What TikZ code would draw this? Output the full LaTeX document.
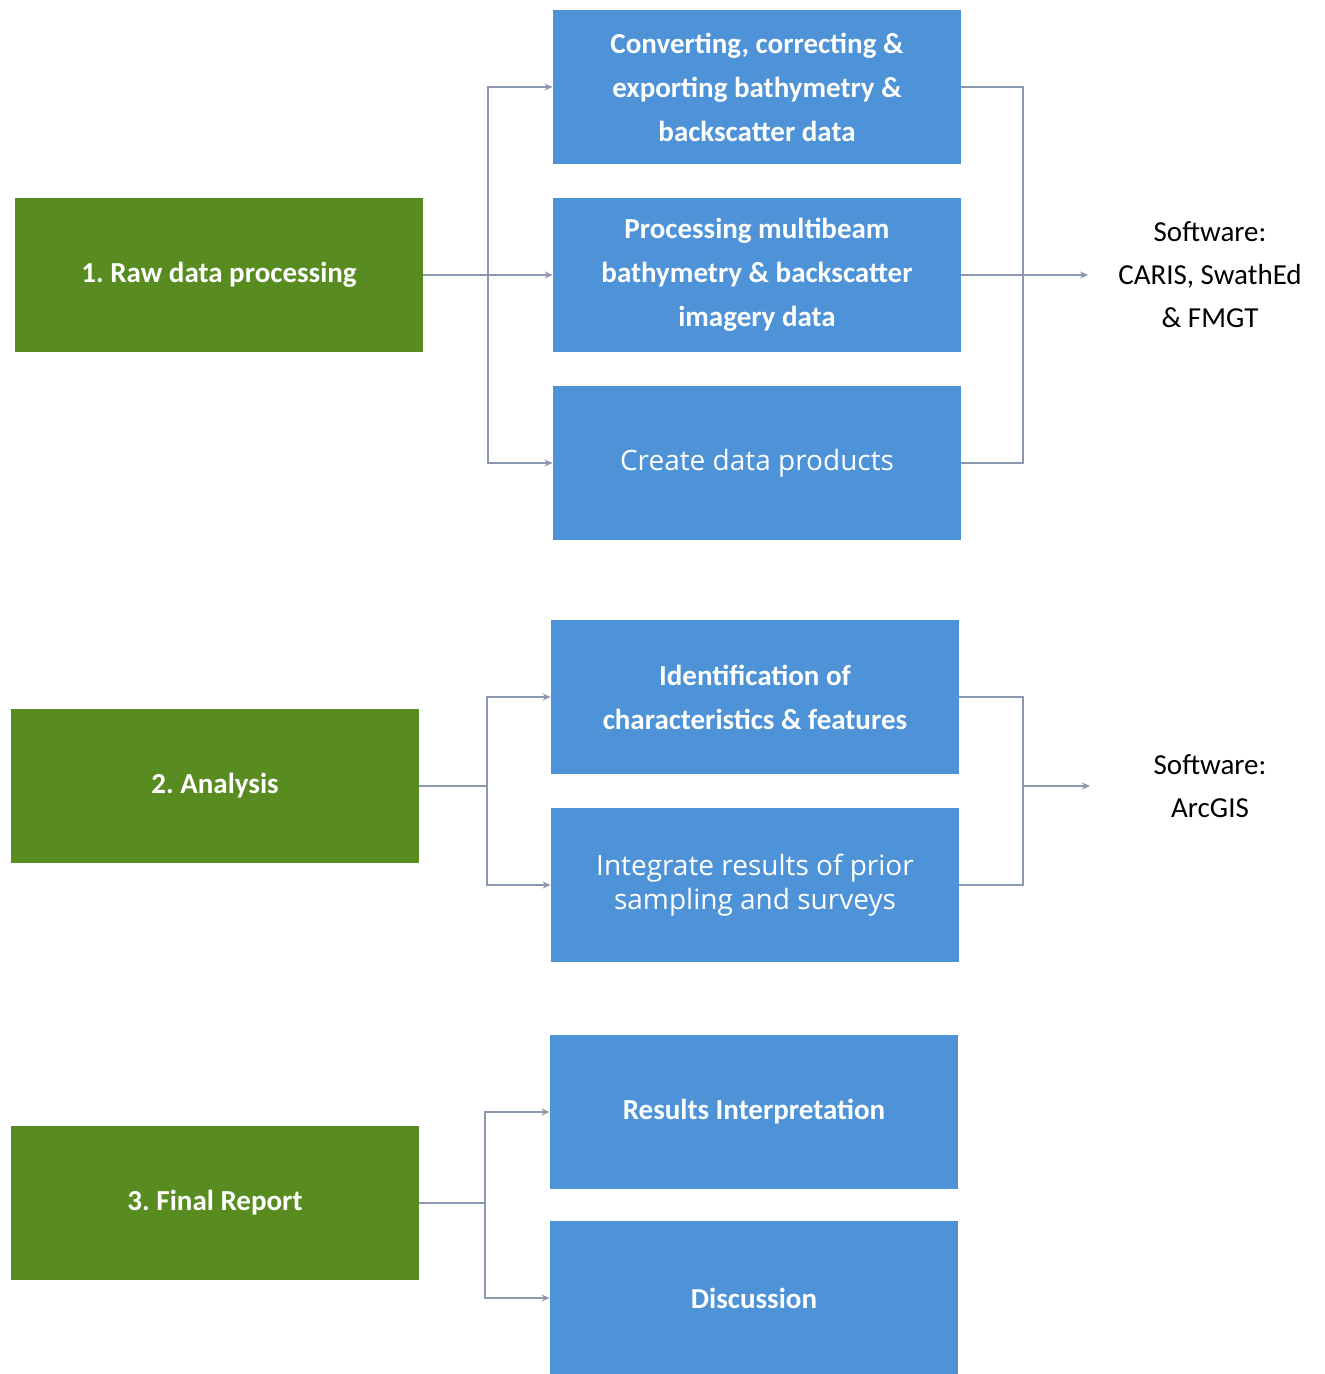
\documentclass[tikz,border=0pt]{standalone}
\usepackage{fontspec}
\setmainfont{Carlito}
\newfontfamily\opensans{Open Sans}
\usetikzlibrary{positioning, arrows.meta}
\frenchspacing

\definecolor{phasegreen}{RGB}{88,140,32}
\definecolor{taskblue}{RGB}{78,147,216}
\definecolor{linkgrey}{RGB}{140,152,175}

\begin{document}
\begin{tikzpicture}[
        x=0.5pt, y=-0.5pt,
        base/.style={align=center, text=white, inner sep=0pt, minimum width=204pt, minimum height=77pt, font=\fontsize{14.5}{22}\selectfont\bfseries},
        phase/.style={base, fill=phasegreen},
        task/.style={base, fill=taskblue},
        plaintask/.style={task, font=\fontsize{14}{17}\selectfont\opensans},
        soft/.style={align=center, font=\fontsize{14.5}{21.5}\selectfont},
        link/.style={linkgrey, line width=0.8pt},
        arr/.style={link, -{Stealth[length=4pt, width=3.5pt]}}
    ]
    \useasboundingbox (0,0) rectangle (1324,1374);

    % phases
    \node[phase] (g1) at (219,275) {1. Raw data processing};
    \node[phase] (g2) at (215,786) {2. Analysis};
    \node[phase] (g3) at (215,1203) {3. Final Report};

    % tasks
    \node[task] (b1) at (757,87) {Converting, correcting \&\\exporting bathymetry \&\\backscatter data};
    \node[task] (b2) at (757,275) {Processing multibeam\\bathymetry \& backscatter\\imagery data};
    \node[plaintask] (b3) at (757,463) {Create data products};
    \node[task] (b4) at (755,697) {Identification of\\characteristics \& features};
    \node[plaintask] (b5) at (755,885) {Integrate results of prior\\sampling and surveys};
    \node[task] (b6) at (754,1112) {Results Interpretation};
    \node[task] (b7) at (754,1298) {Discussion};

    % software
    \node[soft] (sw1) at (1210,275) {Software:\\CARIS, SwathEd\\\& FMGT};
    \node[soft] (sw2) at (1210,786) {Software:\\ArcGIS};

    \coordinate (j1) at (488,275);
    \coordinate (j2) at (487,786);
    \coordinate (j3) at (485,1203);
    \coordinate (r1) at (1023,275);
    \coordinate (r2) at (1023,786);
    \coordinate (e1) at (1088,275);
    \coordinate (e2) at (1090,786);

    \draw[arr] (g1.east) -- (b2.west);
    \draw[arr] (j1) |- (b1.west);
    \draw[arr] (j1) |- (b3.west);
    \draw[link] (b1.east) -| (r1) |- (b3.east);
    \draw[arr] (b2.east) -- (e1);

    \draw[link] (g2.east) -- (j2);
    \draw[arr] (j2) |- (b4.west);
    \draw[arr] (j2) |- (b5.west);
    \draw[link] (b4.east) -| (r2) |- (b5.east);
    \draw[arr] (r2) -- (e2);

    \draw[link] (g3.east) -- (j3);
    \draw[arr] (j3) |- (b6.west);
    \draw[arr] (j3) |- (b7.west);
\end{tikzpicture}
\end{document}
